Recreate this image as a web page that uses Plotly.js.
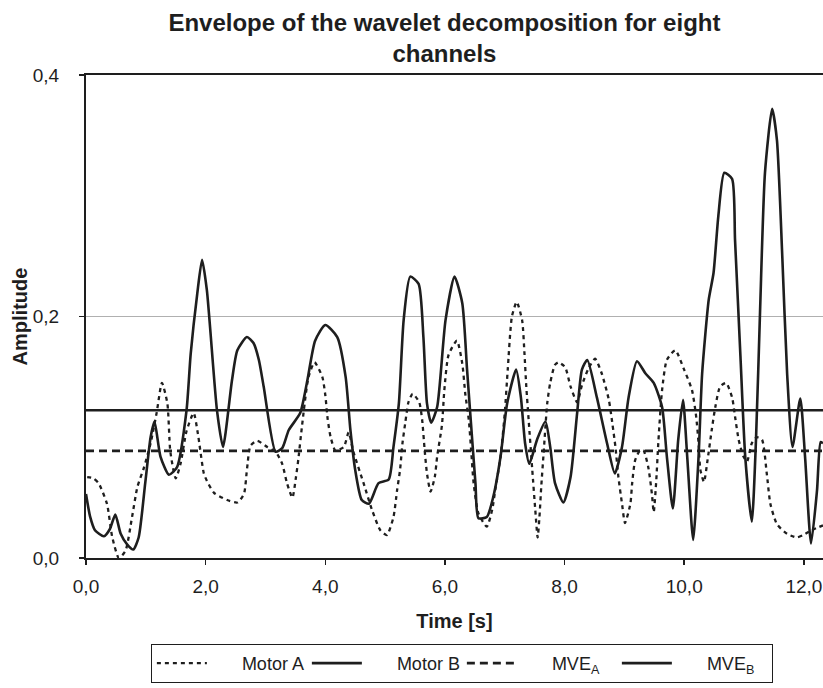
<!DOCTYPE html>
<html>
<head>
<meta charset="utf-8">
<script src="https://cdn.plot.ly/plotly-3.0.1.min.js"></script>
<style>html,body{margin:0;padding:0;background:#fff;}#chart{width:823px;height:688px;}</style>
</head>
<body>
<div id="chart"></div>
<script>
// ---- data ----
const motorA_t = [0.02,0.12,0.21,0.35,0.44,0.55,0.66,0.77,0.86,0.97,1.08,1.18,1.27,1.36,1.41,1.50,1.58,1.68,1.80,1.87,1.97,2.02,2.14,2.36,2.53,2.64,2.69,2.75,2.86,3.03,3.17,3.28,3.36,3.45,3.51,3.55,3.61,3.72,3.82,3.95,4.00,4.04,4.09,4.17,4.31,4.39,4.47,4.64,4.78,4.92,5.03,5.14,5.20,5.25,5.29,5.34,5.39,5.46,5.57,5.62,5.66,5.70,5.76,5.83,5.87,5.95,5.99,6.06,6.20,6.29,6.34,6.40,6.44,6.48,6.56,6.70,6.79,6.84,6.93,7.00,7.05,7.12,7.20,7.29,7.33,7.36,7.40,7.46,7.51,7.55,7.58,7.61,7.65,7.71,7.76,7.84,7.90,8.01,8.10,8.21,8.29,8.40,8.51,8.62,8.74,8.80,8.85,8.90,8.96,9.01,9.10,9.13,9.18,9.26,9.32,9.40,9.46,9.49,9.53,9.57,9.63,9.71,9.85,9.99,10.13,10.20,10.24,10.27,10.33,10.39,10.46,10.52,10.60,10.70,10.80,10.85,10.91,10.99,11.05,11.13,11.21,11.30,11.38,11.44,11.55,11.72,11.88,11.99,12.13,12.32];
const motorA_y = [0.067,0.066,0.062,0.045,0.017,0.000,0.006,0.034,0.059,0.075,0.095,0.120,0.145,0.128,0.088,0.066,0.078,0.105,0.120,0.103,0.070,0.064,0.054,0.048,0.046,0.053,0.073,0.093,0.097,0.092,0.088,0.078,0.062,0.050,0.067,0.082,0.109,0.150,0.162,0.150,0.135,0.115,0.100,0.089,0.092,0.104,0.088,0.062,0.040,0.023,0.019,0.034,0.056,0.073,0.095,0.113,0.129,0.136,0.129,0.114,0.090,0.070,0.055,0.067,0.084,0.110,0.139,0.168,0.180,0.161,0.136,0.114,0.088,0.062,0.037,0.026,0.040,0.056,0.084,0.120,0.156,0.200,0.212,0.197,0.169,0.142,0.114,0.073,0.040,0.017,0.034,0.059,0.087,0.128,0.145,0.160,0.162,0.158,0.142,0.129,0.143,0.157,0.165,0.153,0.131,0.111,0.092,0.067,0.045,0.029,0.045,0.062,0.081,0.089,0.089,0.075,0.053,0.038,0.062,0.098,0.139,0.164,0.172,0.157,0.139,0.117,0.095,0.073,0.063,0.081,0.106,0.125,0.142,0.145,0.133,0.117,0.098,0.084,0.080,0.095,0.100,0.098,0.070,0.045,0.028,0.020,0.017,0.019,0.023,0.027];

const motorB_t = [0.00,0.07,0.15,0.30,0.40,0.49,0.58,0.69,0.79,0.88,0.99,1.08,1.145,1.245,1.385,1.52,1.68,1.75,1.86,1.94,2.02,2.19,2.29,2.44,2.53,2.69,2.80,2.89,2.97,3.17,3.28,3.39,3.58,3.70,3.83,4.00,4.20,4.34,4.42,4.50,4.61,4.73,4.89,5.06,5.14,5.23,5.31,5.42,5.56,5.64,5.70,5.77,5.87,6.01,6.16,6.29,6.37,6.42,6.51,6.56,6.70,6.81,6.93,7.04,7.19,7.27,7.34,7.41,7.54,7.68,7.76,7.84,7.98,8.10,8.21,8.29,8.38,8.54,8.71,8.84,8.96,9.07,9.21,9.35,9.49,9.63,9.71,9.81,9.90,9.98,10.05,10.15,10.24,10.30,10.41,10.49,10.57,10.67,10.80,10.85,10.94,11.02,11.13,11.20,11.27,11.35,11.47,11.55,11.64,11.72,11.81,11.94,12.02,12.12,12.22,12.28,12.32];
const motorB_y = [0.053,0.034,0.023,0.018,0.024,0.036,0.020,0.011,0.007,0.017,0.062,0.100,0.113,0.084,0.069,0.075,0.122,0.169,0.219,0.247,0.222,0.122,0.092,0.147,0.172,0.183,0.178,0.164,0.142,0.088,0.091,0.106,0.120,0.147,0.180,0.193,0.183,0.150,0.106,0.073,0.048,0.045,0.062,0.065,0.092,0.128,0.197,0.233,0.227,0.183,0.128,0.112,0.125,0.197,0.233,0.211,0.156,0.122,0.062,0.033,0.034,0.051,0.084,0.128,0.156,0.133,0.095,0.078,0.098,0.113,0.092,0.062,0.046,0.067,0.120,0.156,0.164,0.133,0.095,0.070,0.092,0.133,0.163,0.153,0.145,0.125,0.084,0.041,0.098,0.131,0.084,0.015,0.084,0.153,0.214,0.236,0.283,0.319,0.314,0.263,0.167,0.084,0.030,0.098,0.208,0.319,0.372,0.346,0.249,0.153,0.092,0.132,0.084,0.012,0.056,0.096,0.095];

const mveA = 0.0887;
const mveB = 0.1224;
const timeSpan = [0, 12.32];

const seriesNames = ['Motor A', 'Motor B', 'MVE<sub>A</sub>', 'MVE<sub>B</sub>'];
const titleText = '<b>Envelope of the wavelet decomposition for eight<br>channels</b>';
const xTitle = '<b>Time [s]</b>';
const yTitle = '<b>Amplitude</b>';

const ink = '#1e1e1e';
const pad = '\u00a0\u00a0\u00a0\u00a0\u00a0\u00a0';
const traces = [
  {x: motorA_t, y: motorA_y, name: pad + seriesNames[0], mode: 'lines',
   line: {color: ink, width: 2.3, dash: '4px,4px', shape: 'spline', smoothing: 0.6}},
  {x: motorB_t, y: motorB_y, name: pad + seriesNames[1], mode: 'lines',
   line: {color: ink, width: 2.6, shape: 'spline', smoothing: 0.6}},
  {x: timeSpan, y: [mveA, mveA], name: pad + seriesNames[2], mode: 'lines',
   line: {color: ink, width: 2.6, dash: '8px,5px'}},
  {x: timeSpan, y: [mveB, mveB], name: pad + seriesNames[3], mode: 'lines',
   line: {color: ink, width: 2.6}}
];

const font = 'Liberation Sans, Arial, Helvetica, sans-serif';
const layout = {
  width: 823, height: 688,
  margin: {l: 86, r: 0, t: 75, b: 130},
  paper_bgcolor: '#fff', plot_bgcolor: '#fff',
  separators: ',.',
  font: {family: font, color: ink, size: 18},
  showlegend: true,
  title: {text: titleText, x: 0.54, xref: 'container', xanchor: 'center',
          y: 0.955, yref: 'container', yanchor: 'top',
          font: {family: font, size: 24, color: ink}},
  xaxis: {range: timeSpan, tick0: 0, dtick: 2, tickformat: '.1f',
          showline: true, mirror: true, linecolor: ink, linewidth: 2,
          ticks: 'outside', ticklen: 5, tickwidth: 1.5, tickcolor: ink,
          showgrid: false, zeroline: false, ticklabelstandoff: 5,
          tickfont: {family: font, size: 19, color: ink},
          title: {text: xTitle, standoff: 18, font: {family: font, size: 20, color: ink}}},
  yaxis: {range: [0, 0.4], tick0: 0, dtick: 0.2, tickformat: '.1f',
          showline: true, linecolor: ink, linewidth: 2,
          ticks: 'outside', ticklen: 5, tickwidth: 1.5, tickcolor: ink,
          showgrid: true, gridcolor: '#b0b0b0', gridwidth: 1.5, zeroline: false,
          ticklabelstandoff: 16,
          tickfont: {family: font, size: 19, color: ink},
          title: {text: yTitle, standoff: 0, font: {family: font, size: 20, color: ink}}},
  legend: {orientation: 'h', x: 0.51, xanchor: 'center', y: -0.178, yanchor: 'top',
           bordercolor: ink, borderwidth: 1, bgcolor: '#fff',
           font: {family: font, size: 18, color: ink},
           itemwidth: 50, entrywidth: 90, traceorder: 'normal'}
};

Plotly.newPlot('chart', traces, layout, {displayModeBar: false, staticPlot: true});
</script>
</body>
</html>
